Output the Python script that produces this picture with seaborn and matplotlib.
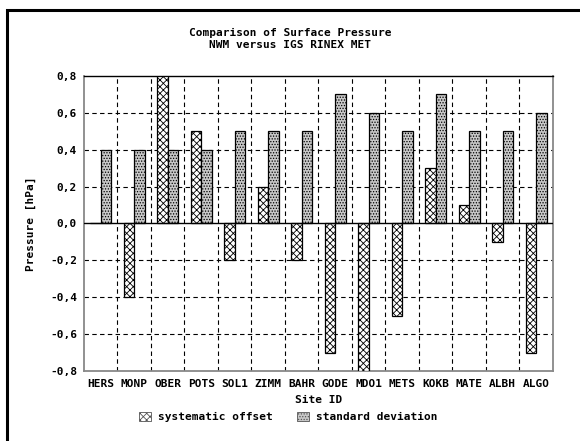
import matplotlib
matplotlib.use("Agg")
import matplotlib.pyplot as plt
import matplotlib.patches as mpatches
from matplotlib.ticker import FuncFormatter, MultipleLocator, FixedLocator
import numpy as np
import pandas as pd
import seaborn as sns

sites = ["HERS", "MONP", "OBER", "POTS", "SOL1", "ZIMM", "BAHR",
         "GODE", "MDO1", "METS", "KOKB", "MATE", "ALBH", "ALGO"]
systematic_offset = [0.0, -0.4, 0.8, 0.5, -0.2, 0.2, -0.2,
                     -0.7, -0.8, -0.5, 0.3, 0.1, -0.1, -0.7]
standard_deviation = [0.4, 0.4, 0.4, 0.4, 0.5, 0.5, 0.5,
                      0.7, 0.6, 0.5, 0.7, 0.5, 0.5, 0.6]
series_names = ["systematic offset", "standard deviation"]

df = pd.DataFrame({
    "site": sites * 2,
    "value": systematic_offset + standard_deviation,
    "series": [series_names[0]] * len(sites) + [series_names[1]] * len(sites),
})

sns.set_style("white")
plt.rcParams["font.family"] = ["DejaVu Sans Mono"]
plt.rcParams["font.weight"] = "bold"
plt.rcParams["text.color"] = "black"
plt.rcParams["axes.labelcolor"] = "black"
plt.rcParams["xtick.color"] = "black"
plt.rcParams["ytick.color"] = "black"
plt.rcParams["hatch.linewidth"] = 0.6
FS = 8.0

fig = plt.figure(figsize=(5.8, 4.41), dpi=100)
ax = fig.add_axes([0.1448, 0.1587, 0.8086, 0.669])

styles = {
    series_names[0]: dict(facecolor="white", hatch="xxxxx"),
    series_names[1]: dict(facecolor="#c8c8c8", hatch="......"),
}

sns.barplot(data=df, x="site", y="value", hue="series", hue_order=series_names,
            order=sites, width=0.63, gap=0, dodge=True, legend=False, ax=ax,
            palette=["white", "#c8c8c8"], saturation=1, errorbar=None,
            edgecolor="black", linewidth=0.9, zorder=3)

n = len(sites)
for i, p in enumerate(ax.patches[:2 * n]):
    st = styles[series_names[i // n]]
    p.set_facecolor(st["facecolor"])
    p.set_hatch(st["hatch"])
    p.set_edgecolor("black")

ax.set_ylim(-0.8, 0.8)
ax.set_xlim(-0.5, n - 0.5)
ax.yaxis.set_major_locator(MultipleLocator(0.2))
ax.yaxis.set_major_formatter(FuncFormatter(lambda v, _: f"{v:.1f}".replace(".", ",").replace("-0,0", "0,0")))

ax.grid(False)
for y in np.arange(-0.6, 0.8, 0.2):
    if abs(y) > 1e-9:
        ax.axhline(y, color="black", lw=0.8, ls=(0, (4, 3)), zorder=1)
for x in np.arange(0.5, n - 1, 1.0):
    ax.axvline(x, color="black", lw=0.8, ls=(0, (4, 3)), zorder=1)
ax.axhline(0, color="black", lw=1.0, zorder=4)

for side in ["left", "right", "bottom"]:
    ax.spines[side].set_color("#888888")
    ax.spines[side].set_linewidth(1.3)
ax.spines["top"].set_color("black")
ax.spines["top"].set_linewidth(1.0)

ax.tick_params(axis="y", which="major", direction="out", length=4, width=0.8,
               color="#888888", labelcolor="black", labelsize=FS, pad=1)
ax.tick_params(axis="x", which="both", length=0, labelsize=FS, pad=6,
               labelcolor="black")
for lbl in ax.get_xticklabels() + ax.get_yticklabels():
    lbl.set_fontweight("bold")

ax.set_xlabel("Site ID", fontsize=FS, fontweight="bold", labelpad=4)
ax.set_ylabel("Pressure [hPa]", fontsize=FS, fontweight="bold", labelpad=10)

fig.text(0.5, 0.925, "Comparison of Surface Pressure", ha="center", va="center",
         fontsize=FS, fontweight="bold")
fig.text(0.5, 0.897, "NWM versus IGS RINEX MET", ha="center", va="center",
         fontsize=FS, fontweight="bold")

handles = [mpatches.Patch(facecolor=styles[s]["facecolor"], hatch=styles[s]["hatch"],
                          edgecolor="#555555", linewidth=0.6, label=s) for s in series_names]
leg = fig.legend(handles=handles, loc="center", bbox_to_anchor=(0.497, 0.054),
                 ncol=2, frameon=False, fontsize=FS, handlelength=1.1, handleheight=0.9,
                 handletextpad=0.6, columnspacing=2.2)
for t in leg.get_texts():
    t.set_fontweight("bold")

# outer frame
fig.patches.append(mpatches.Rectangle((7 / 580, -0.1), 1.2, (1 - 10 / 441) + 0.1,
                                      transform=fig.transFigure, fill=False,
                                      edgecolor="black", linewidth=2.2, zorder=10))

fig.savefig("out.png", dpi=100)
